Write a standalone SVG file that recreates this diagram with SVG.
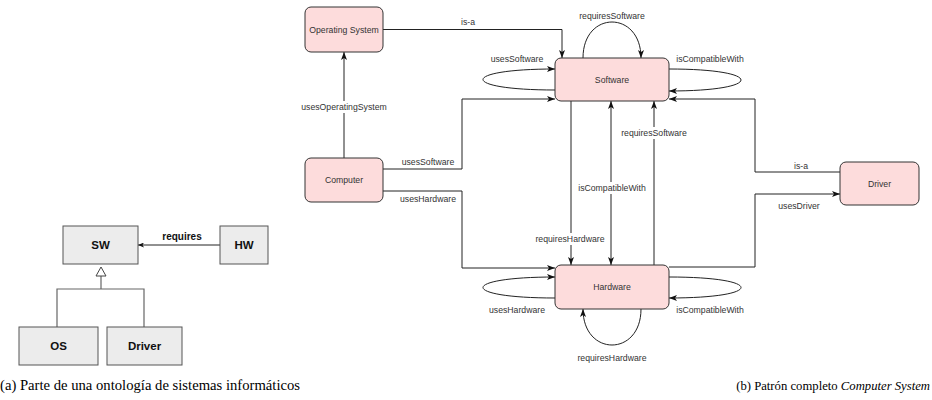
<svg xmlns="http://www.w3.org/2000/svg" width="932" height="400" viewBox="0 0 932 400">
<style>
.bg{fill:#ffffff}
.node rect{fill:#fddcdc;stroke:#333;stroke-width:1}
.node text{font-family:"Liberation Sans",Arial,sans-serif;font-size:8.7px;fill:#333;text-anchor:middle;dominant-baseline:central}
.box rect{fill:#ececec;stroke:#555;stroke-width:1}
.box text{font-family:"Liberation Sans",Arial,sans-serif;font-size:11.5px;font-weight:bold;fill:#111;text-anchor:middle;dominant-baseline:central}
.e{fill:none;stroke:#222;stroke-width:1}
.g{fill:none;stroke:#666;stroke-width:1.2}
.lbl{font-family:"Liberation Sans",Arial,sans-serif;font-size:8.7px;fill:#333;text-anchor:middle;dominant-baseline:central}
.lblb{font-family:"Liberation Sans",Arial,sans-serif;font-size:10px;font-weight:bold;fill:#111;text-anchor:middle;dominant-baseline:central}
.lb{fill:#fff}
.cap{font-family:"Liberation Serif","Times New Roman",serif;font-size:14.5px;fill:#000}
.capb{font-family:"Liberation Serif","Times New Roman",serif;font-size:12.7px;fill:#000}
</style>
<defs>
<marker id="arr" viewBox="0 0 8 6" refX="8" refY="3" markerWidth="8" markerHeight="6" markerUnits="userSpaceOnUse" orient="auto-start-reverse">
<path d="M0,0 L8,3 L0,6 L2,3 z" fill="#111"/>
</marker>
<marker id="arrs" viewBox="0 0 6 5" refX="6" refY="2.5" markerWidth="6" markerHeight="5" markerUnits="userSpaceOnUse" orient="auto">
<path d="M0,0 L6,2.5 L0,5 L1.5,2.5 z" fill="#111"/>
</marker>
</defs>
<rect class="bg" x="0" y="0" width="932" height="400"/>

<!-- left diagram -->
<g id="left-connectors">
<path class="e" d="M220,245 H138" marker-end="url(#arrs)"/>
<text class="lblb" x="182" y="236">requires</text>
<path class="g" d="M57,327 V289 H144 V327"/>
<path class="g" d="M101,289 V276"/>
<polygon points="101,267 96,276 106,276" fill="#fff" stroke="#444" stroke-width="1"/>
</g>
<g id="box-sw" class="box"><rect x="63" y="226" width="75" height="38"/><text x="100.5" y="245">SW</text></g>
<g id="box-hw" class="box"><rect x="220" y="226" width="48" height="38"/><text x="244" y="245">HW</text></g>
<g id="box-os" class="box"><rect x="19" y="327" width="79" height="38"/><text x="58.5" y="346">OS</text></g>
<g id="box-driver" class="box"><rect x="107" y="327" width="75" height="38"/><text x="144.5" y="346">Driver</text></g>

<!-- right diagram connectors -->
<g id="connectors">
<path class="e" d="M383,29.5 H562 V58" marker-end="url(#arr)"/>
<path class="e" d="M344,158 V52" marker-end="url(#arr)"/>
<path class="e" d="M383,169 H462 V99 H555" marker-end="url(#arr)"/>
<path class="e" d="M383,191 H462 V268 H555" marker-end="url(#arr)"/>
<path class="e" d="M555,90 C459,90 459,69 555,69" marker-end="url(#arr)"/>
<path class="e" d="M583,58 C583,10 641,10 641,58" marker-end="url(#arr)"/>
<path class="e" d="M669,69 C765,69 765,91 669,91" marker-end="url(#arr)"/>
<path class="e" d="M840,172 H755 V99 H669" marker-end="url(#arr)"/>
<path class="e" d="M669,267 H755 V194 H840" marker-end="url(#arr)"/>
<path class="e" d="M571,101 V265" marker-end="url(#arr)"/>
<path class="e" d="M611,101 V265" marker-start="url(#arr)" marker-end="url(#arr)"/>
<path class="e" d="M654,265 V101" marker-end="url(#arr)"/>
<path class="e" d="M555,298 C459,298 459,277 555,277" marker-end="url(#arr)"/>
<path class="e" d="M669,277 C765,277 765,298 669,298" marker-end="url(#arr)"/>
<path class="e" d="M641,309 C641,357 583,357 583,309" marker-end="url(#arr)"/>

<text class="lbl" x="468" y="22">is-a</text>
<rect class="lb" x="300" y="101" width="88" height="12"/>
<text class="lbl" x="344" y="107">usesOperatingSystem</text>
<text class="lbl" x="428" y="162">usesSoftware</text>
<text class="lbl" x="428" y="199">usesHardware</text>
<text class="lbl" x="517" y="59">usesSoftware</text>
<text class="lbl" x="612" y="16">requiresSoftware</text>
<text class="lbl" x="710" y="59">isCompatibleWith</text>
<text class="lbl" x="801" y="166">is-a</text>
<text class="lbl" x="799" y="206">usesDriver</text>
<rect class="lb" x="533" y="233" width="76" height="12"/>
<text class="lbl" x="570" y="239">requiresHardware</text>
<rect class="lb" x="577" y="182" width="72" height="12"/>
<text class="lbl" x="612" y="188">isCompatibleWith</text>
<rect class="lb" x="620" y="127" width="70" height="12"/>
<text class="lbl" x="654" y="133">requiresSoftware</text>
<text class="lbl" x="517" y="310">usesHardware</text>
<text class="lbl" x="710" y="310">isCompatibleWith</text>
<text class="lbl" x="612" y="358">requiresHardware</text>
</g>

<g id="node-os" class="node"><rect x="305" y="7" width="78" height="45" rx="6"/><text x="344" y="29.5">Operating System</text></g>
<g id="node-computer" class="node"><rect x="305" y="158" width="78" height="44" rx="6"/><text x="344" y="180">Computer</text></g>
<g id="node-software" class="node"><rect x="555" y="58" width="114" height="43" rx="6"/><text x="612" y="79.5">Software</text></g>
<g id="node-hardware" class="node"><rect x="555" y="265" width="114" height="44" rx="6"/><text x="612" y="287">Hardware</text></g>
<g id="node-driver" class="node"><rect x="840" y="162" width="79" height="43" rx="6"/><text x="879.5" y="183.5">Driver</text></g>

<g id="captions">
<text class="cap" x="0" y="390" textLength="300" lengthAdjust="spacingAndGlyphs">(a) Parte de una ontología de sistemas informáticos</text>
<text class="capb" x="930" y="390" text-anchor="end">(b) Patrón completo <tspan font-style="italic">Computer System</tspan></text>
</g>
</svg>
